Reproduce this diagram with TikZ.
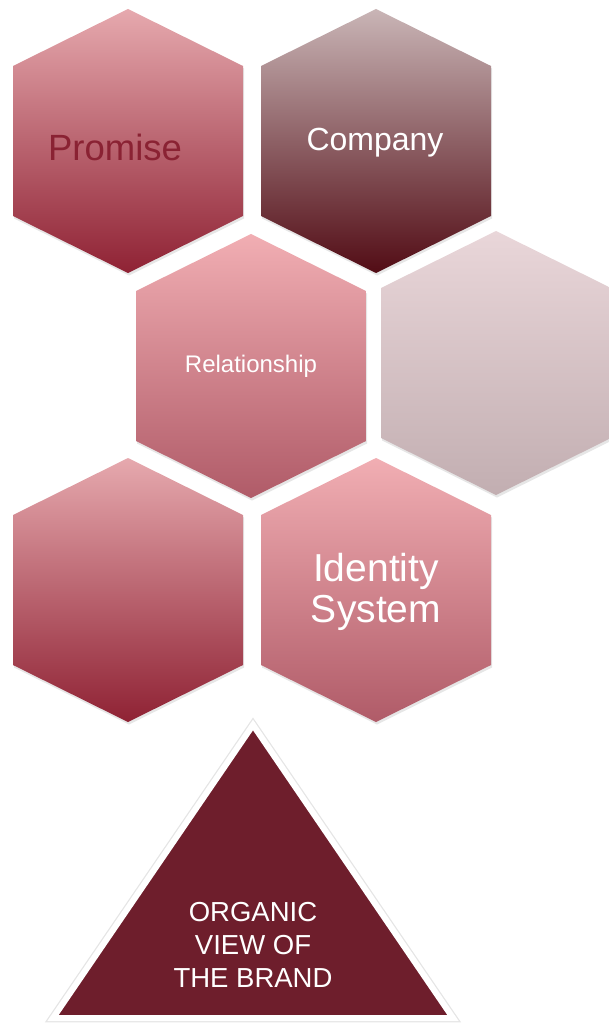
\documentclass[tikz,border=0pt]{standalone}
\usepackage{fontspec}
\setmainfont{Liberation Sans}
\usetikzlibrary{shadows,positioning}
\definecolor{promisered}{HTML}{8A2233}
\definecolor{brandred}{HTML}{6E1E2C}
\tikzset{
  hexcell/.style  = {drop shadow={opacity=0.2, shadow xshift=1pt, shadow yshift=-2.5pt}},
  rosecell/.style = {hexcell, top color=HexRoseTop, bottom color=HexRoseBot},
  pinkcell/.style = {hexcell, top color=HexPinkTop, bottom color=HexPinkBot},
  mauvecell/.style= {hexcell, top color=HexMauveTop, bottom color=HexMauveBot},
  palecell/.style = {hexcell, top color=HexPaleTop, bottom color=HexPaleBot},
  label/.style    = {align=center, inner sep=0pt}
}
\definecolor{HexRoseTop}{HTML}{E6A9AE}
\definecolor{HexRoseBot}{HTML}{8F2234}
\definecolor{HexPinkTop}{HTML}{F1AEB3}
\definecolor{HexPinkBot}{HTML}{B05B68}
\definecolor{HexMauveTop}{HTML}{C9B5B6}
\definecolor{HexMauveBot}{HTML}{520C15}
\definecolor{HexPaleTop}{HTML}{E9D6D9}
\definecolor{HexPaleBot}{HTML}{C2AEB1}
% hexagon from its top vertex
\newcommand{\hexcellat}[3]{\path[#3] (#1,#2) -- ++(115,57) -- ++(0,150)
  -- ++(-115,57) -- ++(-115,-57) -- ++(0,-150) -- cycle;}
\newcommand{\fsz}[2]{\fontsize{#1}{#2}\selectfont}

\begin{document}
\begin{tikzpicture}[x=1pt,y=-1pt]
\useasboundingbox (0,0) rectangle (609,1024);
\hexcellat{128}{9}{rosecell}
\hexcellat{376}{9}{mauvecell}
\hexcellat{251}{234}{pinkcell}
\hexcellat{496}{231}{palecell}
\hexcellat{128}{458}{rosecell}
\hexcellat{376}{458}{pinkcell}
% brand triangle, white rim with a soft edge
\path[draw=black!10, line width=8.5pt, line join=miter]
  (253,725) -- (453,1018) -- (53,1018) -- cycle;
\path[fill=brandred, draw=white, line width=6pt, line join=miter]
  (253,725) -- (453,1018) -- (53,1018) -- cycle;
\node [label, text=promisered, font=\fsz{36.5}{40}] (promise) at (115,147) {Promise};
\node [label, text=white, font=\fsz{32}{36}] (company) at (375,143) {Company};
\node [label, text=white, font=\fsz{24}{28}] (relationship) at (251,366) {Relationship};
\node [label, text=white, font=\fsz{39}{41}] (identity) at (376,592) {Identity\\System};
\node [label, text=white, font=\fsz{27.5}{33}] (organic) at (253,945) {ORGANIC\\VIEW OF\\THE BRAND};
\end{tikzpicture}
\end{document}
